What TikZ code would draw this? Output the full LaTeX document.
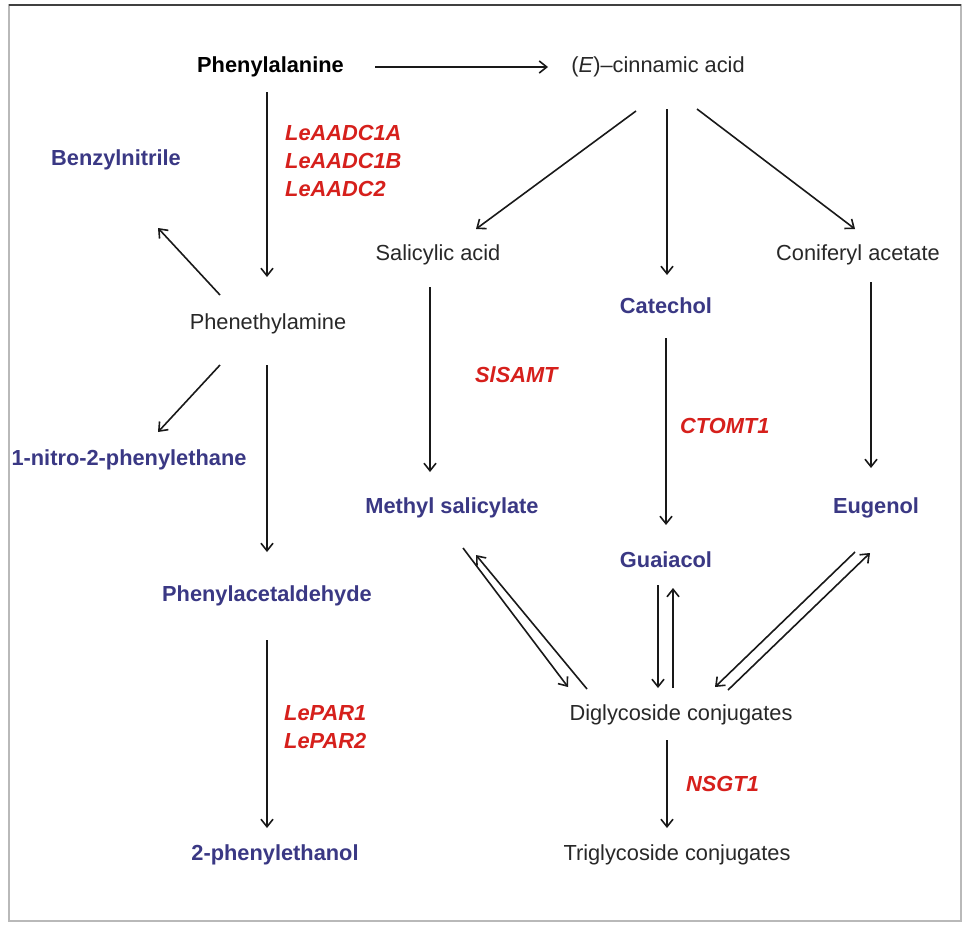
\documentclass[tikz,border=0pt]{standalone}
\usepackage{fontspec}
\setmainfont{Liberation Sans}
\usetikzlibrary{arrows.meta,calc}
\definecolor{cblue}{RGB}{58,56,132}
\definecolor{cred}{RGB}{214,32,28}
\definecolor{cgray}{RGB}{40,40,40}
\begin{document}
\begin{tikzpicture}[x=1pt,y=-1pt,
  every node/.style={inner sep=0pt,font=\fontsize{21.8}{28}\selectfont,text height=16pt,text depth=5pt},
  plain/.style={text=cgray},
  blk/.style={text=black,font=\fontsize{21.8}{28}\selectfont\bfseries},
  cpd/.style={text=cblue,font=\fontsize{21.8}{28}\selectfont\bfseries},
  enz/.style={text=cred,font=\fontsize{21.8}{28}\selectfont\bfseries\itshape,anchor=west,align=left,text height=,text depth=},
  arr/.style={draw=black!90,line width=1.6pt,-{Straight Barb[length=7.5pt,width=12pt,line width=1.6pt]}}]
\fill[white] (0,0) rectangle (966,924);
\draw[gray!55,line width=1.5pt] (9,5) rectangle (961,921);
\draw[black!75,line width=1.5pt] (9,5) -- (961,5);
% nodes
\node[blk] (phe) at (270.5,67) {Phenylalanine};
\node[plain] (cin) at (658,67) {(\textit{E})–cinnamic acid};
\node[enz] (aadc) at (285,161) {LeAADC1A\\LeAADC1B\\LeAADC2};
\node[cpd] (ben) at (116,160) {Benzylnitrile};
\node[plain] (pea) at (268,324) {Phenethylamine};
\node[cpd] (nit) at (129,460) {1-nitro-2-phenylethane};
\node[cpd] (pac) at (267,596) {Phenylacetaldehyde};
\node[enz] (par) at (284,727) {LePAR1\\LePAR2};
\node[cpd] (pet) at (275,855) {2-phenylethanol};
\node[plain] (sal) at (438,255) {Salicylic acid};
\node[cpd] (cat) at (666,308) {Catechol};
\node[plain] (con) at (858,255) {Coniferyl acetate};
\node[enz] (sam) at (475,375) {SlSAMT};
\node[cpd] (mes) at (452,508) {Methyl salicylate};
\node[enz] (cto) at (680,426) {CTOMT1};
\node[cpd] (gua) at (666,562) {Guaiacol};
\node[cpd] (eug) at (876,508) {Eugenol};
\node[plain] (dig) at (681,715) {Diglycoside conjugates};
\node[enz] (nsg) at (686,784) {NSGT1};
\node[plain] (tri) at (677,855) {Triglycoside conjugates};
% arrows
\draw[arr] ($(phe)+(104.5,0)$) -- ($(cin)+(-110,0)$);
\draw[arr] ($(phe)+(-3.5,25)$) -- ($(pea)+(-1,-47)$);
\draw[arr] ($(pea)+(-48,-29)$) -- ($(ben)+(42,68)$);
\draw[arr] ($(pea)+(-48,41)$) -- ($(nit)+(29,-28)$);
\draw[arr] ($(pea)+(-1,41)$) -- ($(pac)+(0,-44)$);
\draw[arr] ($(pac)+(0,44)$) -- ($(pet)+(-8,-27)$);
\draw[arr] ($(cin)+(-22,44)$) -- ($(sal)+(38,-26)$);
\draw[arr] ($(cin)+(9,42)$) -- ($(cat)+(1,-33)$);
\draw[arr] ($(cin)+(39,42)$) -- ($(con)+(-3,-26)$);
\draw[arr] ($(sal)+(-8,32)$) -- ($(mes)+(-22,-36)$);
\draw[arr] ($(cat)+(0,30)$) -- ($(gua)+(0,-37)$);
\draw[arr] ($(con)+(13,27)$) -- ($(eug)+(-5,-40)$);
\draw[arr] ($(mes)+(11,40)$) -- ($(dig)+(-113,-28)$);
\draw[arr] ($(dig)+(-94,-26)$) -- ($(mes)+(24,47)$);
\draw[arr] ($(gua)+(-8,23)$) -- ($(dig)+(-23,-27)$);
\draw[arr] ($(dig)+(-8,-27)$) -- ($(gua)+(7,26)$);
\draw[arr] ($(eug)+(-21,44)$) -- ($(dig)+(34,-28)$);
\draw[arr] ($(dig)+(47,-25)$) -- ($(eug)+(-6,45)$);
\draw[arr] ($(dig)+(-14,25)$) -- ($(tri)+(-10,-27)$);
\end{tikzpicture}
\end{document}
